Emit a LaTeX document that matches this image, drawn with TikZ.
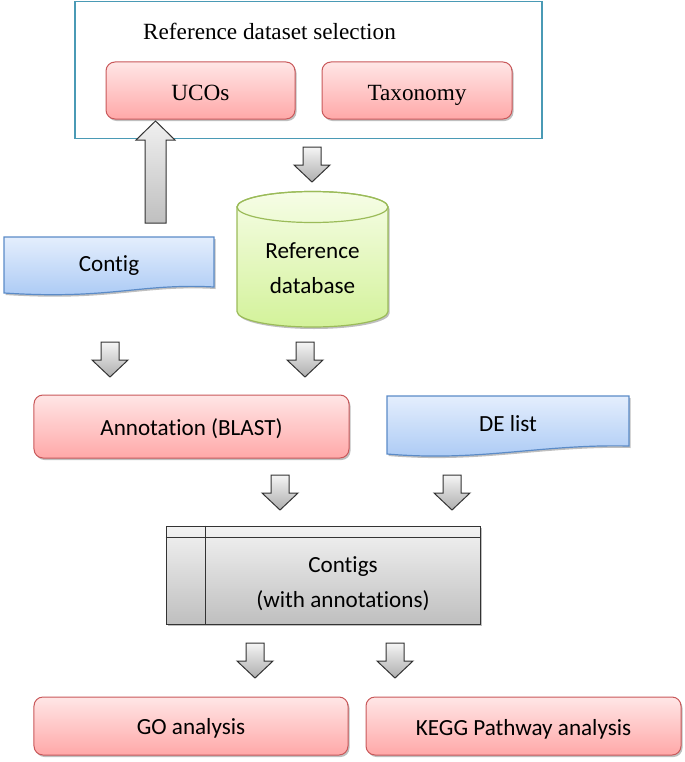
\documentclass[tikz,border=0pt]{standalone}
\usepackage{fontspec}
\setmainfont{Liberation Serif}
\newfontfamily\calfont[RawFeature={-liga;-clig;-calt;-dlig}]{Carlito}
\usetikzlibrary{shadows,calc}
\definecolor{redbd}{HTML}{C9585A}
\definecolor{redtop}{HTML}{FFE6E6}
\definecolor{redbot}{HTML}{FFA8A8}
\definecolor{bluebd}{HTML}{5B8BC7}
\definecolor{bluetop}{HTML}{E4EEFD}
\definecolor{bluebot}{HTML}{A8C8F4}
\definecolor{greenbd}{HTML}{9BBB59}
\definecolor{greentop}{HTML}{F6FDE6}
\definecolor{greenbot}{HTML}{D3F29A}
\definecolor{framec}{HTML}{4A9AB5}
\begin{document}
\begin{tikzpicture}[x=1bp,y=-1bp,
  shadowed/.style={drop shadow={shadow xshift=1.5bp,shadow yshift=-2bp,opacity=0.25,fill=black}},
  framebox/.style={draw=framec, line width=1.3bp, fill=white},
  redbox/.style={draw=redbd, line width=1bp, rounded corners=9bp, top color=redtop, bottom color=redbot, shadowed},
  docshape/.style={draw=bluebd, line width=1.2bp, top color=bluetop, bottom color=bluebot, shadowed},
  dbshape/.style={draw=greenbd, line width=1.2bp, top color=greentop, bottom color=greenbot},
  graybox/.style={draw=black!80, line width=1bp, top color=black!5, bottom color=black!25, shadowed},
  blockarrow/.style={draw=black!80, line width=1bp, top color=black!4, bottom color=black!32, line join=miter},
  serif text/.style={font=\fontsize{23.3pt}{28pt}\selectfont, inner sep=0pt},
  sans text/.style={font=\calfont\fontsize{23.2pt}{28pt}\selectfont, inner sep=0pt},
  darrow/.pic={\path[blockarrow] (-9,0) -- (9,0) -- (9,18) -- (18,18) -- (0,35) -- (-18,18) -- (-9,18) -- cycle;}
]
\useasboundingbox (0,0) rectangle (685,762);

% top frame
\node[framebox, minimum width=467bp, minimum height=137bp] (frame) at (308.5,70) {};
\node[serif text, anchor=base west] (title) at (143,40) {Reference dataset selection};
\node[redbox, minimum width=189bp, minimum height=57bp] (ucos) at (200.5,90.5) {};
\node[serif text, anchor=base] (ucostxt) at (200.5,100) {UCOs};
\node[redbox, minimum width=190bp, minimum height=57bp] (taxo) at (417,90.5) {};
\node[serif text, anchor=base] (taxotxt) at (417,100) {Taxonomy};

% up arrow from Contig to UCOs
\path[blockarrow, top color=black!6, bottom color=black!25] (145,223) -- (166,223) -- (166,140) -- (175,140) -- (155.5,121) -- (136,140) -- (145,140) -- cycle;

% down arrow to database
\pic at (312,147) {darrow};

% Contig document
\path[docshape] (4,237) -- (214,237) -- (214,287) .. controls (140,283) and (110,300) .. (4,293) -- cycle;
\node[sans text, anchor=base] (contig) at (109,271) {Contig};

% Reference database cylinder
\path[dbshape, shadowed] (237,207) -- (237,311.5) arc[start angle=180,end angle=0,x radius=75.5,y radius=15.5] -- (388,207) arc[start angle=0,end angle=-180,x radius=75.5,y radius=15.5] -- cycle;
\draw[draw=greenbd, line width=1.2bp] (312.5,207) ellipse[x radius=75.5, y radius=15.5];
\node[sans text, anchor=base] (refdb1) at (312.5,258) {Reference};
\node[sans text, anchor=base] (refdb2) at (312.5,293) {database};

% row 1 arrows
\pic at (110,342) {darrow};
\pic at (305,342) {darrow};

% Annotation
\node[redbox, minimum width=315bp, minimum height=63bp] (annot) at (191.5,426.5) {};
\node[sans text, anchor=base] (annottxt) at (191.5,435) {Annotation (BLAST)};

% DE list document
\path[docshape] (387,396) -- (629,396) -- (629,446) .. controls (540,444) and (480,462) .. (387,454) -- cycle;
\node[sans text, anchor=base] (delist) at (508,431) {DE list};

% row 2 arrows
\pic at (280,475) {darrow};
\pic at (452,475) {darrow};

% Contigs table box
\node[graybox, minimum width=314bp, minimum height=98bp] (contigs) at (323,575) {};
\draw[draw=black!80, line width=1bp] ([yshift=-12bp]contigs.north west) -- ([yshift=-12bp]contigs.north east);
\draw[draw=black!80, line width=1bp] ([xshift=40bp]contigs.north west) -- ([xshift=40bp]contigs.south west);
\node[sans text, anchor=base] (contigstxt1) at (343,572) {Contigs};
\node[sans text, anchor=base] (contigstxt2) at (343,607) {(with annotations)};

% row 3 arrows
\pic at (255,643) {darrow};
\pic at (395,643) {darrow};

% bottom boxes
\node[redbox, minimum width=314bp, minimum height=58bp] (go) at (191,726) {};
\node[sans text, anchor=base] (gotxt) at (191,734) {GO analysis};
\node[redbox, minimum width=315bp, minimum height=58bp] (kegg) at (523.5,726) {};
\node[sans text, anchor=base] (keggtxt) at (523.5,735) {KEGG Pathway analysis};
\end{tikzpicture}
\end{document}
